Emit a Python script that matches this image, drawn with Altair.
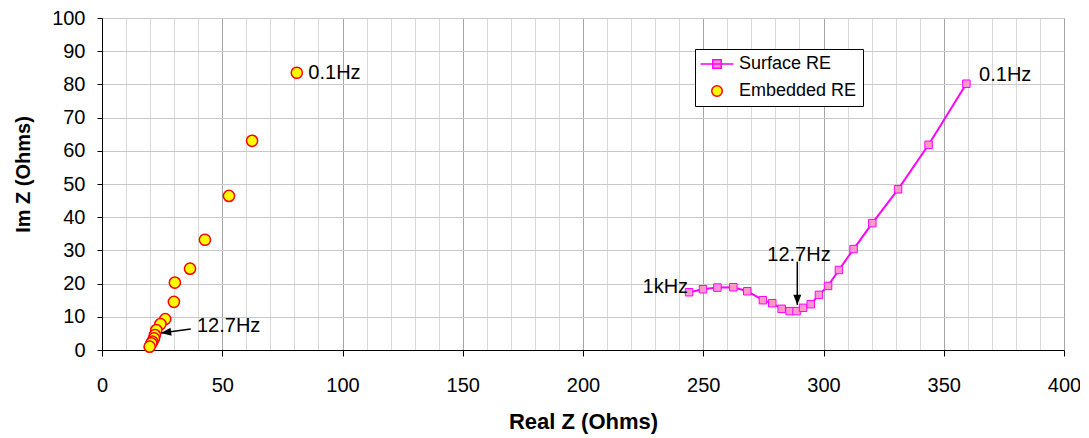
import altair as alt
import pandas as pd

# Embedded RE (listed from 0.1 Hz toward high frequency)
emb_x = [81.0, 62.4, 52.8, 42.8, 36.6, 30.3, 29.9, 26.3, 24.3, 22.6, 22.0, 21.6, 20.9, 20.5, 19.8]
emb_y = [83.5, 63.0, 46.4, 33.2, 24.5, 20.3, 14.5, 9.3, 7.8, 6.0, 4.5, 3.5, 2.5, 2.0, 1.0]

# Surface RE (from 1 kHz to 0.1 Hz)
surf_x = [244.1, 249.9, 255.9, 262.5, 268.3, 274.8, 278.7, 282.6, 285.9, 288.8,
          291.5, 294.7, 298.1, 301.9, 306.4, 312.5, 320.3, 331.0, 343.7, 359.4]
surf_y = [17.4, 18.3, 18.8, 18.9, 17.7, 15.0, 14.1, 12.4, 11.7, 11.7,
          12.7, 13.8, 16.6, 19.3, 24.1, 30.4, 38.2, 48.4, 61.8, 80.2]

series_names = ["Surface RE", "Embedded RE"]

# axis tick values
x_major = [0, 50, 100, 150, 200, 250, 300, 350, 400]
x_minor = [v for v in range(0, 401, 10) if v not in x_major]
y_ticks = [0, 10, 20, 30, 40, 50, 60, 70, 80, 90, 100]

# annotations
ann_text = ["0.1Hz", "0.1Hz", "12.7Hz", "12.7Hz", "1kHz"]
ann_x = [85.8, 364.7, 39.5, 289.8, 243.7]
ann_y = [83.3, 82.8, 7.2, 28.6, 19.1]
ann_align = ["left", "left", "left", "center", "right"]

arr_x1 = [36.9, 289.1]
arr_y1 = [6.3, 26.6]
arr_x2 = [24.6, 289.1]
arr_y2 = [5.1, 13.6]
arr_angle = [262, 180]

FONT = "Liberation Sans"

emb_df = pd.DataFrame({"x": emb_x, "y": emb_y, "series": "Embedded RE"})
surf_df = pd.DataFrame({"x": surf_x, "y": surf_y, "series": "Surface RE", "i": range(len(surf_x))})
ann_df = pd.DataFrame({"t": ann_text, "x": ann_x, "y": ann_y, "a": ann_align})
arr_df = pd.DataFrame({"x1": arr_x1, "y1": arr_y1, "x2": arr_x2, "y2": arr_y2, "ang": arr_angle})

x_scale = alt.Scale(domain=[0, 400], nice=False, zero=False)
y_scale = alt.Scale(domain=[0, 100], nice=False, zero=False)

x_axis_minor = alt.Axis(
    orient="bottom", values=x_minor, grid=True, gridColor="#D9D9D9",
    ticks=False, labels=False, domain=False, title=None,
)
x_axis_major = alt.Axis(
    orient="bottom", title="Real Z (Ohms)", values=x_major,
    grid=True, gridColor="#A6A6A6",
    tickSize=6, labelPadding=19, titlePadding=16,
    labelFontSize=20, titleFontSize=22, titleFontWeight="bold",
    labelFlush=False, labelOverlap=False,
)
y_axis = alt.Axis(
    title="Im Z (Ohms)", values=y_ticks,
    gridColor="#C8C8C8",
    tickSize=5, labelPadding=12, titlePadding=18, titleY=156,
    labelFontSize=20, titleFontSize=20, titleFontWeight="bold",
    labelFlush=False, labelOverlap=False,
)

Y = alt.Y("y:Q", scale=y_scale, axis=y_axis)

legend = alt.Legend(
    title=None, orient="none", legendX=593, legendY=31,
    fillColor="white", strokeColor="black", padding=6,
    labelFont=FONT, labelFontSize=18, labelColor="black",
    symbolSize=110, symbolStrokeWidth=1.5, symbolOffset=7, labelOffset=13,
    rowPadding=9, cornerRadius=0,
)

line = alt.Chart(surf_df).mark_line(color="#FF00FF", strokeWidth=2).encode(
    x=alt.X("x:Q", scale=x_scale, axis=x_axis_minor), y=Y, order="i:Q"
)
squares = alt.Chart(surf_df).mark_point(
    shape="square", size=56, fill="#FF99CC", stroke="#FF00FF", strokeWidth=1, opacity=1, filled=False
).encode(x=alt.X("x:Q", scale=x_scale, axis=x_axis_major), y=Y)

legend_path = "M-3.15,0H3.15M-0.8,-0.8H0.8V0.8H-0.8Z"
emb = alt.Chart(emb_df).mark_point(size=125, strokeWidth=1.5, opacity=1, filled=False).encode(
    x=alt.X("x:Q", scale=x_scale, axis=None), y=Y,
    shape=alt.Shape("series:N", scale=alt.Scale(domain=series_names, range=[legend_path, "circle"]), legend=legend),
    fill=alt.Fill("series:N", scale=alt.Scale(domain=series_names, range=["#FF99CC", "#FFFF00"]), legend=legend),
    stroke=alt.Stroke("series:N", scale=alt.Scale(domain=series_names, range=["#FF00FF", "#FF0000"]), legend=legend),
)

arr_line = alt.Chart(arr_df).mark_rule(color="black", strokeWidth=1.5).encode(
    x=alt.X("x1:Q", scale=x_scale, axis=None), y=alt.Y("y1:Q", scale=y_scale, axis=y_axis),
    x2="x2:Q", y2="y2:Q"
)
arr_head = alt.Chart(arr_df).mark_point(
    shape="M0,0L0.8,2L-0.8,2Z", size=100, filled=True, color="black", opacity=1
).encode(
    x=alt.X("x2:Q", scale=x_scale, axis=None), y=alt.Y("y2:Q", scale=y_scale, axis=y_axis),
    angle=alt.Angle("ang:Q", scale=None)
)

texts = []
for al in ["left", "center", "right"]:
    texts.append(
        alt.Chart(ann_df).transform_filter(alt.datum.a == al).mark_text(
            align=al, baseline="middle", fontSize=20, font=FONT, color="black"
        ).encode(x=alt.X("x:Q", scale=x_scale, axis=None), y=Y, text="t:N")
    )

chart = alt.layer(line, squares, emb, arr_line, arr_head, *texts).resolve_axis(
    x="independent"
).properties(
    width=962, height=332,
    autosize=alt.AutoSizeParams(type="none"),
    padding={"left": 94, "top": 10, "right": 16, "bottom": 90},
).configure_view(stroke=None).configure(
    font=FONT
).configure_axis(
    domainColor="black", tickColor="black", labelColor="black", titleColor="black",
    labelFont=FONT, titleFont=FONT, gridWidth=1
)

chart.save("out.html", embed_options={"renderer": "svg", "actions": False})
